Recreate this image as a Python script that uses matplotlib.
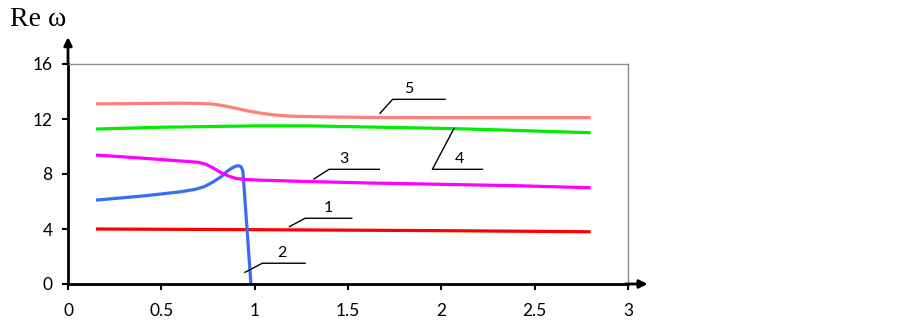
import matplotlib.pyplot as plt
import numpy as np

# curve data
x1 = [0.15, 1.0, 2.0, 2.8]
y1 = [4.0, 3.95, 3.88, 3.8]

x2 = [0.15, 0.4, 0.6, 0.68, 0.73, 0.78, 0.82, 0.85, 0.88, 0.90, 0.912, 0.925, 0.932, 0.937, 0.98]
y2 = [6.1, 6.4, 6.7, 6.88, 7.08, 7.44, 7.8, 8.17, 8.45, 8.57, 8.6, 8.55, 8.4, 8.2, 0.0]

x3 = [0.15, 0.4, 0.6, 0.7, 0.74, 0.78, 0.82, 0.86, 0.9, 0.95, 1.03, 1.3, 1.6, 2.0, 2.4, 2.8]
y3 = [9.38, 9.15, 8.95, 8.85, 8.7, 8.42, 8.1, 7.85, 7.68, 7.6, 7.55, 7.45, 7.35, 7.25, 7.15, 7.0]

x4 = [0.15, 0.5, 1.0, 1.3, 1.6, 2.07, 2.4, 2.8]
y4 = [11.27, 11.4, 11.5, 11.5, 11.42, 11.3, 11.17, 11.0]

x5 = [0.15, 0.4, 0.6, 0.72, 0.78, 0.84, 0.9, 0.96, 1.02, 1.1, 1.2, 1.4, 1.7, 2.0, 2.4, 2.8]
y5 = [13.1, 13.13, 13.15, 13.13, 13.08, 12.95, 12.78, 12.6, 12.45, 12.3, 12.2, 12.15, 12.1, 12.1, 12.1, 12.1]

curve_labels = ['1', '2', '3', '4', '5']
x_ticks = [0, 0.5, 1, 1.5, 2, 2.5, 3]
x_ticklabels = ['0', '0.5', '1', '1.5', '2', '2.5', '3']
y_ticks = [0, 4, 8, 12, 16]

# leader lines: (path xs, path ys, label position)
leaders = [
    ([1.186, 1.270, 1.520], [4.17, 4.78, 4.78], (1.394, 5.51)),
    ([0.948, 1.041, 1.270], [0.85, 1.51, 1.51], (1.145, 2.28)),
    ([1.318, 1.398, 1.668], [7.64, 8.34, 8.34], (1.480, 9.09)),
    ([2.068, 1.952, 2.220], [11.32, 8.34, 8.34], (2.095, 9.09)),
    ([1.671, 1.739, 2.020], [12.41, 13.43, 13.43], (1.823, 14.16)),
]

fig = plt.figure(figsize=(9.02, 3.27), dpi=100)
ax = fig.add_axes([68 / 902, 1 - 284 / 327, 560 / 902, 220 / 327])

lw = 2.3
ax.plot(x1, y1, color='#ff0000', lw=lw, solid_capstyle='butt')
ax.plot(x2, y2, color='#3a6cf4', lw=lw, solid_capstyle='butt')
ax.plot(x3, y3, color='#ff00ff', lw=lw, solid_capstyle='butt')
ax.plot(x4, y4, color='#00ee00', lw=lw, solid_capstyle='butt')
ax.plot(x5, y5, color='#ff8078', lw=lw, solid_capstyle='butt')

for (lx, ly, (tx, ty)), lab in zip(leaders, curve_labels):
    ax.plot(lx, ly, color='black', lw=1.0)
    ax.text(tx, ty, lab, ha='center', va='center', fontsize=11.5, family='Lato')

ax.set_xlim(0, 3)
ax.set_ylim(0, 16)
ax.set_xticks(x_ticks)
ax.set_xticklabels(x_ticklabels)
ax.set_yticks(y_ticks)
for lab in ax.get_xticklabels() + ax.get_yticklabels():
    lab.set_family('Lato')
    lab.set_fontsize(12.5)
ax.tick_params(axis='x', direction='out', length=4, width=1.5, pad=10)
ax.tick_params(axis='y', direction='out', length=4, width=1.5, pad=7)

ax.spines['left'].set_color('black')
ax.spines['left'].set_linewidth(2)
ax.spines['bottom'].set_color('black')
ax.spines['bottom'].set_linewidth(2)
ax.spines['top'].set_color('#8c8c8c')
ax.spines['top'].set_linewidth(1)
ax.spines['right'].set_color('#8c8c8c')
ax.spines['right'].set_linewidth(1)

# axis arrows
ax.annotate('', xy=(0, 1.135), xytext=(0, 0.99), xycoords='axes fraction',
            arrowprops=dict(arrowstyle='-|>', color='black', lw=2, mutation_scale=12),
            annotation_clip=False)
ax.annotate('', xy=(1.04, 0), xytext=(0.99, 0), xycoords='axes fraction',
            arrowprops=dict(arrowstyle='-|>', color='black', lw=2, mutation_scale=12),
            annotation_clip=False)

fig.text(10 / 902, 1 - 19 / 327, 'Re ω', fontsize=20, family='Liberation Serif',
         ha='left', va='center')

fig.savefig('out.png', dpi=100)
